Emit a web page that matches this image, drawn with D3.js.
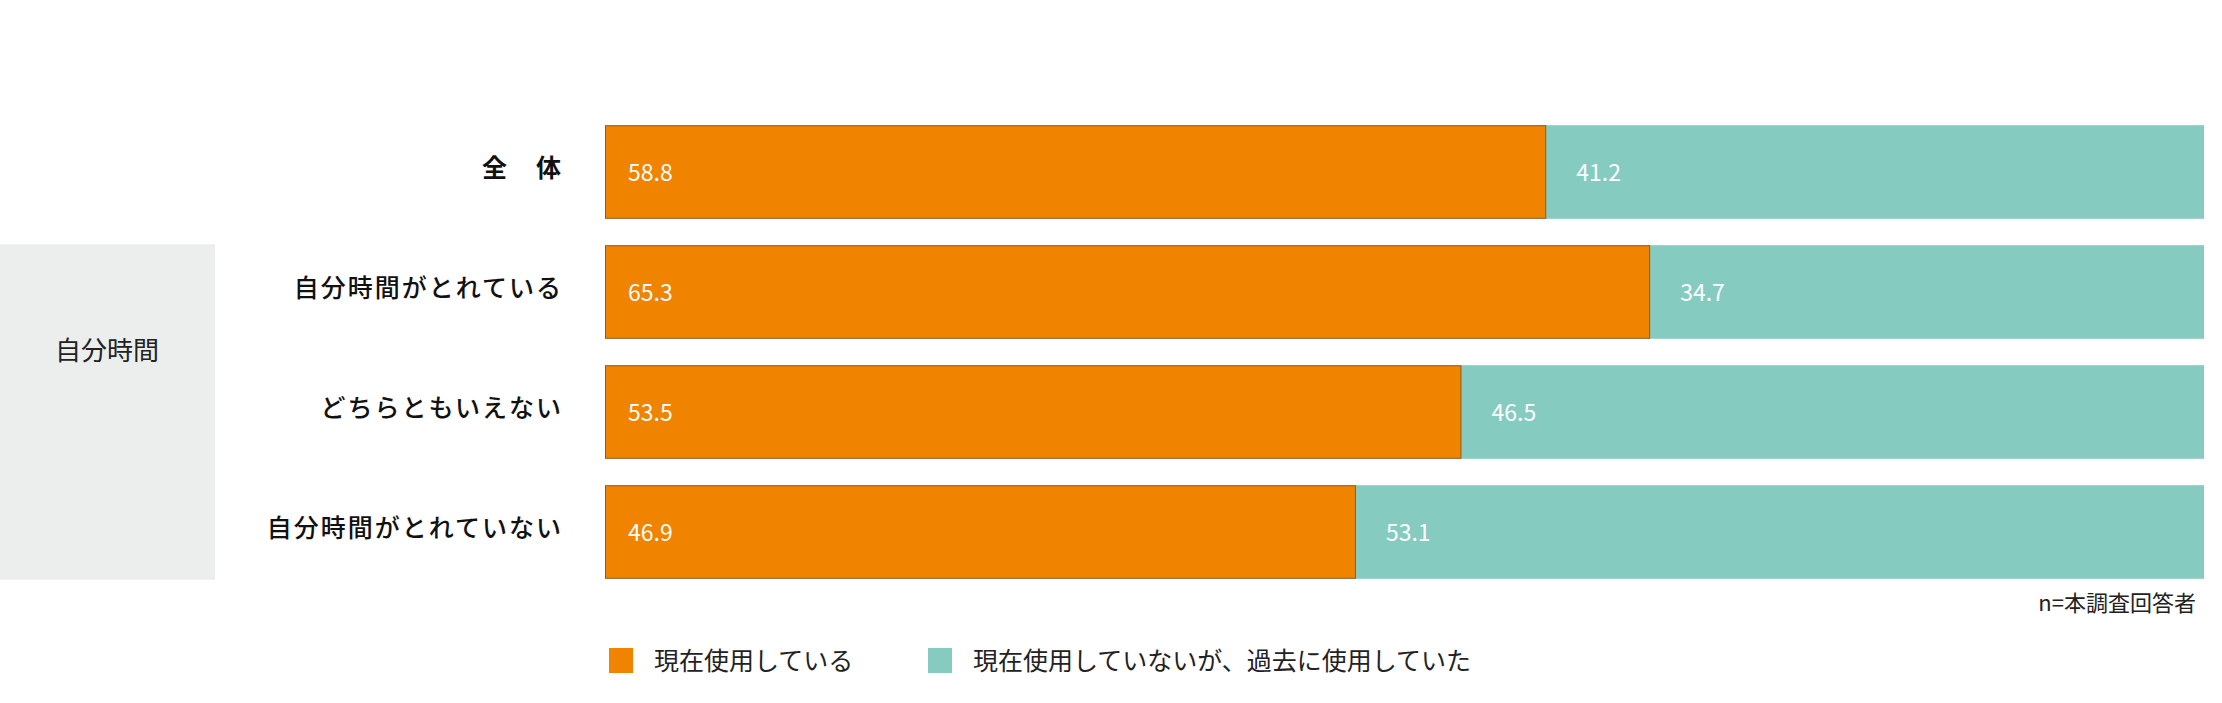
<!DOCTYPE html>
<html><head><meta charset="utf-8">
<script src="https://cdn.jsdelivr.net/npm/d3@7"></script>
<style>body{margin:0;background:#fff}svg{display:block;font-family:"Noto Sans CJK JP",sans-serif}</style>
</head><body><div id="chart"></div>
<script>
const categories = ['全　体', '自分時間がとれている', 'どちらともいえない', '自分時間がとれていない']
const current = [58.8, 65.3, 53.5, 46.9]
const past = [41.2, 34.7, 46.5, 53.1]
const seriesNames = ['現在使用している', '現在使用していないが、過去に使用していた']
const groupLabel = '自分時間'
const note = 'n=本調査回答者'

const W = 2222, H = 703
const svg = d3.select('#chart').append('svg').attr('width', W).attr('height', H)

const x = d3.scaleLinear().domain([0, 100]).range([605, 2204])
const y = d3.scaleBand().domain(categories).range([112, 592]).paddingInner(0.22).paddingOuter(0.11)

// group box
svg.append('rect').attr('x', 0).attr('y', y(categories[1]) - 1).attr('width', 215)
  .attr('height', y(categories[3]) + y.bandwidth() - y(categories[1]) + 2).attr('fill', '#eceeed')
svg.append('text').attr('x', 107).attr('y', y(categories[2]) - 5).attr('text-anchor', 'middle')
  .attr('font-size', 26).attr('fill', '#222').text(groupLabel)

const rows = svg.selectAll('g.row').data(categories).join('g').attr('class', 'row')
rows.append('text').attr('x', 563).attr('y', d => y(d) + y.bandwidth() / 2 - 2)
  .attr('text-anchor', 'end').attr('dominant-baseline', 'middle').attr('font-size', 25)
  .attr('font-weight', (d, i) => i === 0 ? 700 : 500).attr('letter-spacing', 2).attr('fill', '#111').text(d => d)

rows.append('rect').attr('x', (d, i) => x(current[i])).attr('y', d => y(d))
  .attr('width', (d, i) => x(100) - x(current[i])).attr('height', y.bandwidth()).attr('fill', '#86cbbf')
rows.append('rect').attr('x', x(0) + 0.5).attr('y', d => y(d) + 0.5)
  .attr('width', (d, i) => x(current[i]) - x(0)).attr('height', y.bandwidth() - 1)
  .attr('fill', '#f08300').attr('stroke', '#8a5a2a').attr('stroke-width', 1)

rows.append('text').attr('x', x(0) + 23).attr('y', d => y(d) + y.bandwidth() / 2 + 9)
  .attr('font-size', 23).attr('fill', '#fff').text((d, i) => current[i].toFixed(1))
rows.append('text').attr('x', (d, i) => x(current[i]) + 31).attr('y', d => y(d) + y.bandwidth() / 2 + 9)
  .attr('font-size', 23).attr('fill', '#fff').text((d, i) => past[i].toFixed(1))

svg.append('text').attr('x', 2196).attr('y', 611).attr('text-anchor', 'end')
  .attr('font-size', 22).attr('fill', '#222').text(note)

const colors = ['#f08300', '#86cbbf']
const lx = [609, 928]
seriesNames.forEach((s, i) => {
  svg.append('rect').attr('x', lx[i]).attr('y', 648).attr('width', 24).attr('height', 25).attr('fill', colors[i])
  svg.append('text').attr('x', lx[i] + 45).attr('y', 670).attr('font-size', 25).attr('fill', '#222').text(s)
})
</script></body></html>
